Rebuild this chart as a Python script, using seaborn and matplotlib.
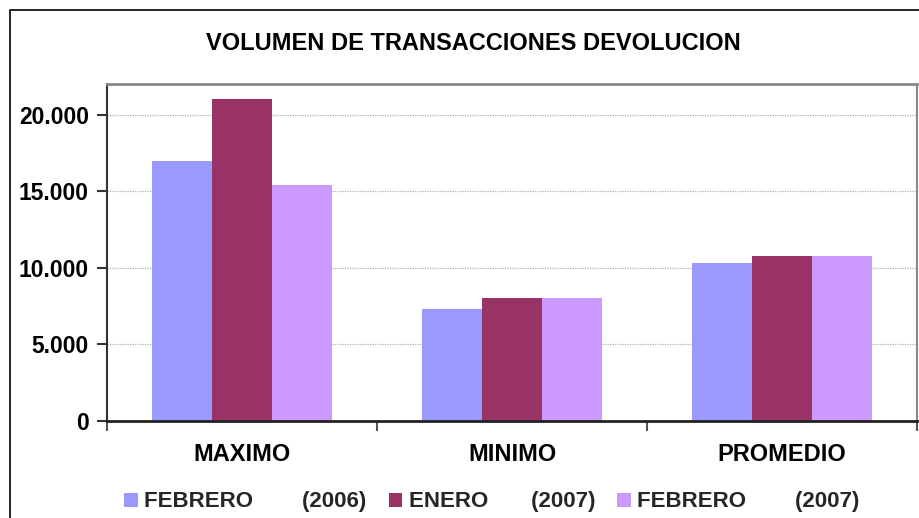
import matplotlib
matplotlib.use("Agg")
import matplotlib.pyplot as plt
import seaborn as sns
import pandas as pd
from matplotlib.patches import Rectangle, Patch
from matplotlib.ticker import FixedLocator, FuncFormatter

categories = ["MAXIMO", "MINIMO", "PROMEDIO"]
series = ["FEBRERO        (2006)", "ENERO       (2007)", "FEBRERO        (2007)"]
feb_2006 = [16950, 7320, 10330]
ene_2007 = [21050, 8040, 10780]
feb_2007 = [15420, 8040, 10780]
colors = ["#9999FF", "#993366", "#CC99FF"]
yticks = [0, 5000, 10000, 15000, 20000]

rows = []
for s, vals in zip(series, [feb_2006, ene_2007, feb_2007]):
    for c, v in zip(categories, vals):
        rows.append({"cat": c, "serie": s, "val": v})
df = pd.DataFrame(rows)

sns.set_theme(style="white")
plt.rcParams["font.family"] = ["Liberation Sans", "DejaVu Sans"]
plt.rcParams["font.weight"] = "bold"

fig = plt.figure(figsize=(9.19, 5.18), dpi=100)
ax = fig.add_axes([107/919, 1-421/518, (917-107)/919, (421-84)/518])

sns.barplot(data=df, x="cat", y="val", hue="serie", order=categories,
            hue_order=series, palette=colors, width=0.67, saturation=1,
            ax=ax, legend=False, linewidth=0)

ax.set_xlim(-0.5, 2.5)
ax.set_ylim(0, 22000)
ax.set_yticks(yticks)
ax.yaxis.set_major_formatter(FuncFormatter(lambda v, p: f"{int(v):,}".replace(",", ".")))
ax.yaxis.grid(True, color="#b0b0b0", linestyle=(0, (1, 1)), linewidth=0.9)
ax.set_axisbelow(True)
ax.set_xlabel("")
ax.set_ylabel("")

ax.tick_params(axis="y", direction="out", length=7, width=1.5, color="#333333",
               labelsize=16.5, pad=6, left=True)
ax.tick_params(axis="x", which="major", length=0, labelsize=17, pad=16)
ax.xaxis.set_minor_locator(FixedLocator([-0.5, 0.5, 1.5, 2.5]))
ax.tick_params(axis="x", which="minor", direction="out", length=7, width=1.5,
               color="#555555", bottom=True)
for lab in ax.get_xticklabels() + ax.get_yticklabels():
    lab.set_fontweight("bold")
    lab.set_color("black")

ax.spines["left"].set_color("#333333")
ax.spines["left"].set_linewidth(1.5)
ax.spines["bottom"].set_color("#222222")
ax.spines["bottom"].set_linewidth(2)
ax.spines["top"].set_color("#888888")
ax.spines["top"].set_linewidth(2)
ax.spines["right"].set_color("#888888")
ax.spines["right"].set_linewidth(1.5)

fig.text(473/919, 1-44/518, "VOLUMEN DE TRANSACCIONES DEVOLUCION",
         ha="center", va="center", fontsize=17, fontweight="bold", color="black")

handles = [Patch(facecolor=c, edgecolor="none") for c in colors]
fig.legend(handles, series, loc="center", bbox_to_anchor=(492/919, 1-502/518),
           ncol=3, frameon=False, handlelength=0.6, handleheight=0.6,
           handletextpad=0.3, columnspacing=1.0, borderpad=0,
           prop={"weight": "bold", "size": 16})

fig.add_artist(Rectangle((10/919, -0.2), 1.2, 1.2 - 10/518, transform=fig.transFigure,
                         fill=False, edgecolor="black", linewidth=1.2))

fig.savefig("out.png", dpi=100)
